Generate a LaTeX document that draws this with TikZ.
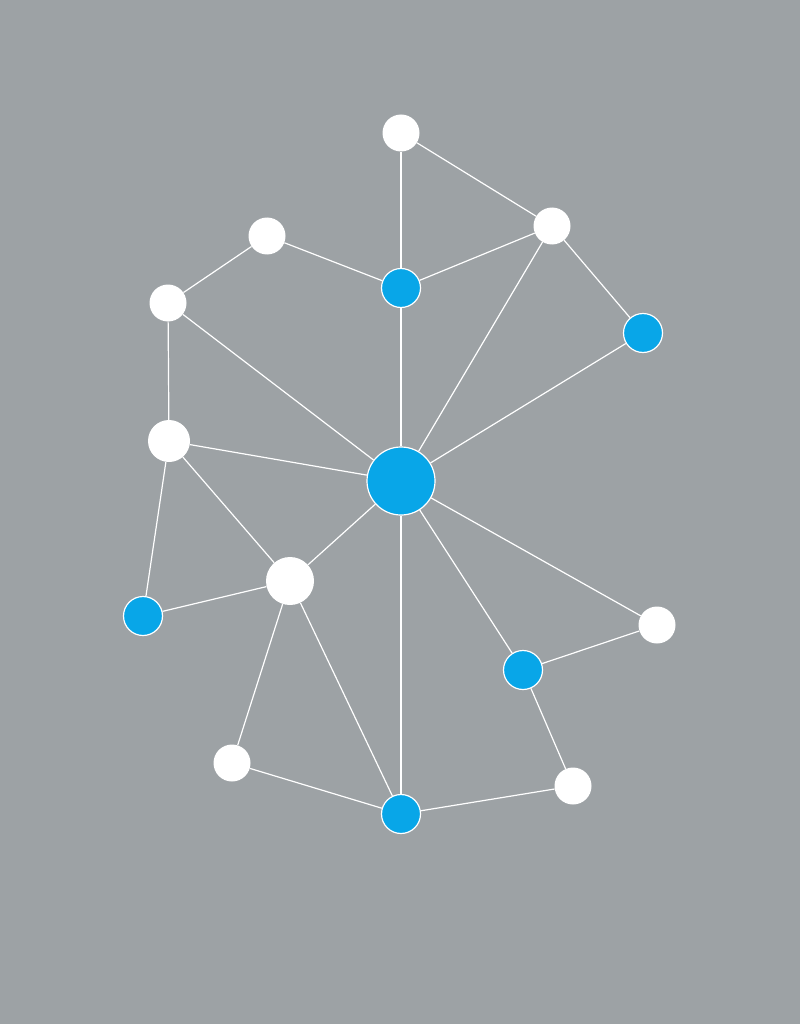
\documentclass[tikz,border=0pt]{standalone}
\definecolor{bg}{HTML}{9DA2A5}
\definecolor{nblue}{HTML}{08A6E8}
\tikzset{
  wnode/.style={circle,fill=white,draw=none,inner sep=0pt,minimum size=#1},
  bnode/.style={circle,fill=nblue,draw=white,line width=1.2pt,inner sep=0pt,minimum size=#1},
  edge/.style={draw=white,line width=1.2pt}
}
\begin{document}
\begin{tikzpicture}[x=1pt,y=-1pt]
\fill[bg] (0,0) rectangle (800,1024);
\useasboundingbox (0,0) rectangle (800,1024);
\node[wnode=37pt] (T) at (401,133) {};
\node[wnode=37pt] (TR) at (552,226) {};
\node[wnode=37pt] (UL) at (267,236) {};
\node[wnode=37pt] (L1) at (168,303) {};
\node[wnode=42pt] (L2) at (169,441) {};
\node[wnode=48pt] (M) at (290,581) {};
\node[wnode=37pt] (R1) at (657,625) {};
\node[wnode=37pt] (BL) at (232,763) {};
\node[wnode=37pt] (BR) at (573,786) {};
\node[bnode=39pt] (B1) at (401,288) {};
\node[bnode=39pt] (B2) at (643,333) {};
\node[bnode=68pt] (C) at (401,481) {};
\node[bnode=39pt] (BLf) at (143,616) {};
\node[bnode=39pt] (B3) at (523,670) {};
\node[bnode=39pt] (Bot) at (401,814) {};
\begin{scope}[on background layer/.try]
\end{scope}
\foreach \a/\b in {T/B1,T/TR,UL/B1,B1/TR,UL/L1,L1/L2,L1/C,B1/C,TR/C,TR/B2,B2/C,L2/C,L2/M,L2/BLf,BLf/M,M/C,M/BL,M/Bot,C/Bot,C/B3,C/R1,R1/B3,B3/BR,BL/Bot,Bot/BR}
  \draw[edge] (\a) -- (\b);
\end{tikzpicture}
\end{document}
